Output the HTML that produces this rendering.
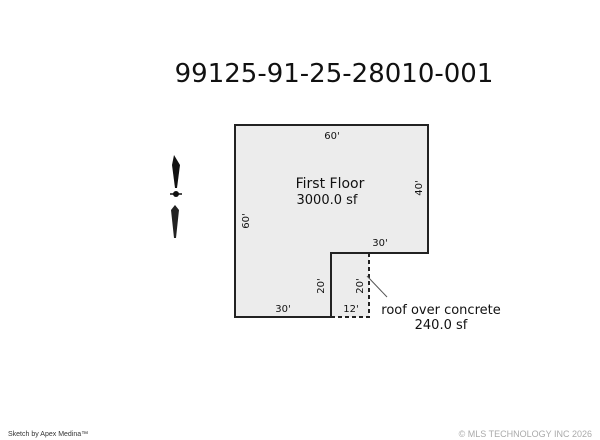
<!DOCTYPE html>
<html><head><style>
body{margin:0;width:600px;height:440px;background:#fff;overflow:hidden;font-family:"DejaVu Sans","Liberation Sans",sans-serif}
</style></head><body>
<svg width="600" height="440" xmlns="http://www.w3.org/2000/svg" style="position:absolute;left:0;top:0">
<text x="334" y="82" font-size="26" text-anchor="middle" font-family="DejaVu Sans, sans-serif" fill="#111">99125-91-25-28010-001</text>
<polygon points="331,253 369,253 369,317 331,317" fill="#ececec"/>
<polygon points="235,125 428,125 428,253 331,253 331,317 235,317" fill="#ececec" stroke="#222" stroke-width="2"/>
<polyline points="369,253 369,317 331,317" fill="none" stroke="#222" stroke-width="2" stroke-dasharray="4,3"/>
<line x1="367" y1="276" x2="387" y2="297" stroke="#555" stroke-width="1"/>
<g font-size="10" fill="#111">
<text x="332" y="139" text-anchor="middle">60'</text>
<text x="380" y="246" text-anchor="middle">30'</text>
<text x="283" y="312" text-anchor="middle">30'</text>
<text x="351" y="312" text-anchor="middle">12'</text>
<text transform="translate(249,221) rotate(-90)" text-anchor="middle">60'</text>
<text transform="translate(422,188) rotate(-90)" text-anchor="middle">40'</text>
<text transform="translate(324,286) rotate(-90)" text-anchor="middle">20'</text>
<text transform="translate(363,286) rotate(-90)" text-anchor="middle">20'</text>
</g>
<text x="330" y="188" font-size="14" text-anchor="middle" fill="#111">First Floor</text>
<text x="327" y="204" font-size="13" text-anchor="middle" fill="#111">3000.0 sf</text>
<text x="441" y="314" font-size="13" text-anchor="middle" fill="#111">roof over concrete</text>
<text x="441" y="329" font-size="13" text-anchor="middle" fill="#111">240.0 sf</text>
<g fill="#111">
<polygon points="174,155 180,165 177,188 175,188 172,165"/>
<polygon points="175,205 179,210 176,238 174,238 171,210" fill="#222"/>
<circle cx="176" cy="194" r="3"/>
<line x1="170" y1="194" x2="182" y2="194" stroke="#111" stroke-width="1.5"/>
</g>
<text x="8" y="436" font-size="7" fill="#333" font-family="Liberation Sans, sans-serif">Sketch by Apex Medina™</text>
<text x="592" y="437" font-size="9" fill="#aaa" text-anchor="end" font-family="Liberation Sans, sans-serif">© MLS TECHNOLOGY INC 2026</text>
</svg>
</body></html>
